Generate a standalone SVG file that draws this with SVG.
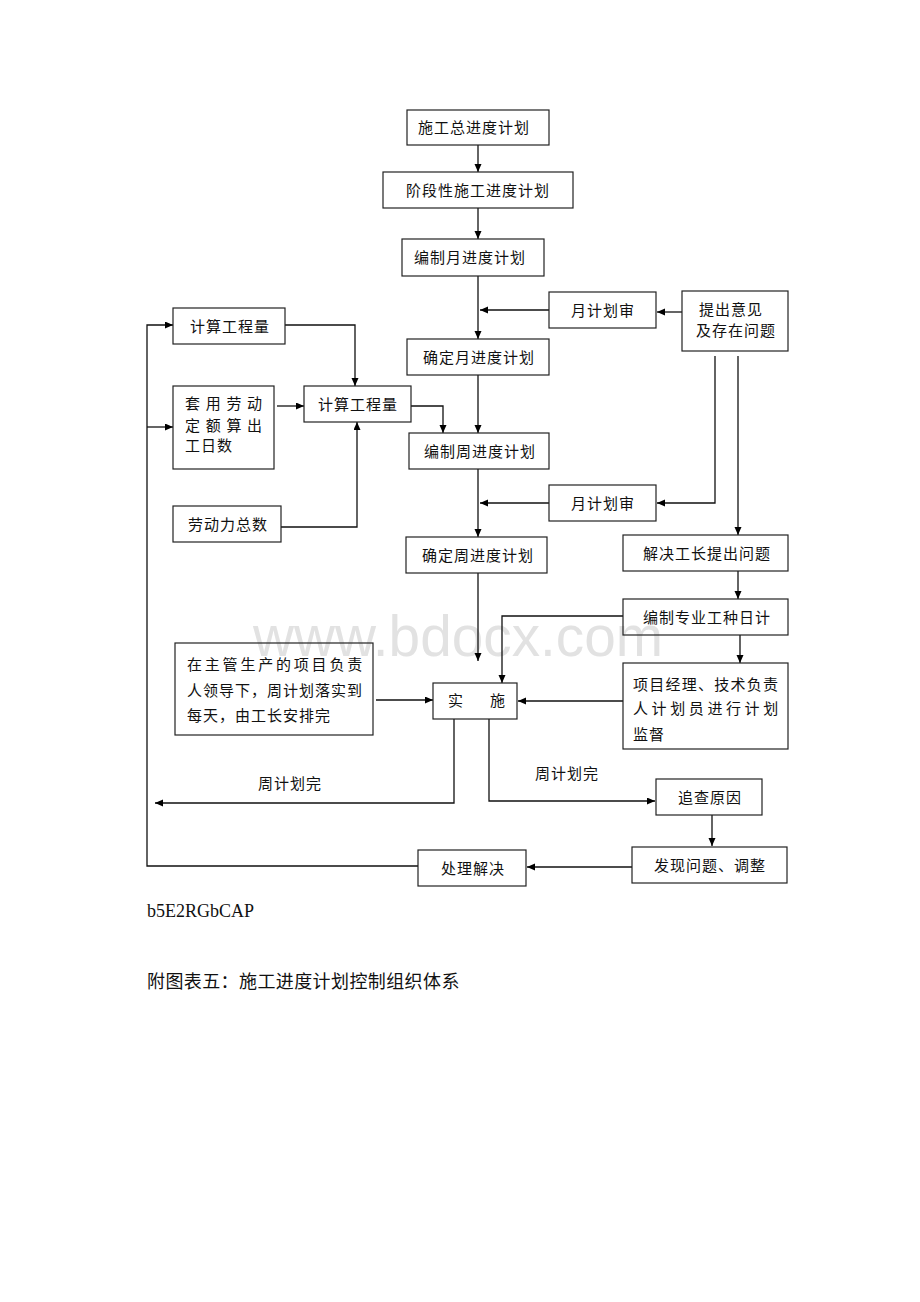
<svg xmlns="http://www.w3.org/2000/svg" width="920" height="1302" viewBox="0 0 920 1302">
<defs>
<marker id="ah" markerUnits="userSpaceOnUse" markerWidth="9" markerHeight="8" refX="8" refY="3.5" orient="auto">
<path d="M0,0 L8,3.5 L0,7 z" fill="#000"/>
</marker>
<style>
.box{fill:none;stroke:#222;stroke-width:1.2}
.t{font-family:"Liberation Serif","Noto Sans CJK SC",serif;font-size:15px;fill:#111;letter-spacing:1px}
.c{text-anchor:middle}
.ln{fill:none;stroke:#111;stroke-width:1.3}
.ar{marker-end:url(#ah)}
.lab{font-family:"Liberation Serif","Noto Sans CJK SC",serif;font-size:15px;fill:#111;letter-spacing:1px;text-anchor:middle}
.wm{font-family:"Liberation Sans",Arial,sans-serif;font-size:58px;fill:#e2e2e2}
.cap{font-family:"Liberation Serif","Noto Sans CJK SC",serif;font-size:18px;fill:#111}
</style>
</defs>
<rect width="920" height="1302" fill="#fff"/>
<text class="wm" x="253" y="656" textLength="410" lengthAdjust="spacingAndGlyphs">www.bdocx.com</text>

<g id="connectors">
<path class="ln ar" d="M478,145 V172"/>
<path class="ln ar" d="M478,208 V239"/>
<path class="ln ar" d="M478,276 V339"/>
<path class="ln ar" d="M549,310 H480"/>
<path class="ln ar" d="M682,312 H657"/>
<path class="ln ar" d="M478,375 V433"/>
<path class="ln ar" d="M411,406 H443 V433"/>
<path class="ln ar" d="M285,325 H355 V386"/>
<path class="ln ar" d="M281,527 H357 V422"/>
<path class="ln ar" d="M277,406 H304"/>
<path class="ln ar" d="M478,469 V537"/>
<path class="ln ar" d="M549,503 H480"/>
<path class="ln ar" d="M715,356 V503 H657"/>
<path class="ln ar" d="M738,356 V535"/>
<path class="ln ar" d="M478,573 V661"/>
<path class="ln ar" d="M738,571 V599"/>
<path class="ln ar" d="M623,616 H502 V683"/>
<path class="ln ar" d="M740,635 V663"/>
<path class="ln ar" d="M623,701 H518"/>
<path class="ln ar" d="M376,700 H433"/>
<path class="ln ar" d="M454,719 V803 H155"/>
<path class="ln ar" d="M489,719 V801 H655"/>
<path class="ln ar" d="M712,815 V846"/>
<path class="ln ar" d="M632,867 H527"/>
<path class="ln ar" d="M418,866 H147 V325 H173"/>
<path class="ln ar" d="M147,427 H173"/>
<text class="lab" x="290" y="789">周计划完</text>
<text class="lab" x="567" y="779">周计划完</text>
</g>

<g id="n1"><rect class="box" x="407" y="110" width="142" height="35"/><text class="t c" x="474" y="133">施工总进度计划</text></g>
<g id="n2"><rect class="box" x="383" y="172" width="190" height="36"/><text class="t c" x="478" y="195.5">阶段性施工进度计划</text></g>
<g id="n3"><rect class="box" x="402" y="239" width="142" height="37"/><text class="t c" x="470" y="263">编制月进度计划</text></g>
<g id="n4"><rect class="box" x="549" y="292" width="107" height="36"/><text class="t c" x="603" y="315.5">月计划审</text></g>
<g id="n5"><rect class="box" x="682" y="291" width="106" height="60"/><text class="t c" x="731" y="314.5">提出意见</text><text class="t c" x="736" y="335.5">及存在问题</text></g>
<g id="n6"><rect class="box" x="407" y="339" width="142" height="36"/><text class="t c" x="479" y="362.5">确定月进度计划</text></g>
<g id="n7"><rect class="box" x="173" y="308" width="112" height="36"/><text class="t c" x="230" y="331.5">计算工程量</text></g>
<g id="n8"><rect class="box" x="173" y="386" width="101" height="83"/><text class="t" x="185" y="409" style="letter-spacing:5.7px">套用劳动</text><text class="t" x="185" y="431" style="letter-spacing:5.7px">定额算出</text><text class="t" x="185" y="451">工日数</text></g>
<g id="n9"><rect class="box" x="304" y="386" width="107" height="36"/><text class="t c" x="358" y="409.5">计算工程量</text></g>
<g id="n10"><rect class="box" x="409" y="433" width="140" height="36"/><text class="t c" x="480" y="456.5">编制周进度计划</text></g>
<g id="n11"><rect class="box" x="549" y="485" width="107" height="36"/><text class="t c" x="603" y="508.5">月计划审</text></g>
<g id="n12"><rect class="box" x="173" y="506" width="108" height="36"/><text class="t c" x="228" y="529.5">劳动力总数</text></g>
<g id="n13"><rect class="box" x="406" y="537" width="141" height="36"/><text class="t c" x="478" y="560.5">确定周进度计划</text></g>
<g id="n14"><rect class="box" x="623" y="535" width="165" height="36"/><text class="t c" x="707" y="558.5">解决工长提出问题</text></g>
<g id="n15"><rect class="box" x="623" y="599" width="165" height="36"/><text class="t c" x="707" y="622.5">编制专业工种日计</text></g>
<g id="n16"><rect class="box" x="175" y="643" width="198" height="92"/><text class="t" x="187" y="669.5" style="letter-spacing:2.8px">在主管生产的项目负责</text><text class="t" x="187" y="695.5">人领导下，周计划落实到</text><text class="t" x="187" y="720.5">每天，由工长安排完</text></g>
<g id="n17"><rect class="box" x="433" y="683" width="84" height="36"/><text class="t" x="448" y="706">实</text><text class="t" x="490" y="706">施</text></g>
<g id="n18"><rect class="box" x="623" y="663" width="165" height="86"/><text class="t" x="633" y="689.5" style="letter-spacing:1.25px">项目经理、技术负责</text><text class="t" x="633" y="713.5" style="letter-spacing:3.6px">人计划员进行计划</text><text class="t" x="633" y="739.5">监督</text></g>
<g id="n19"><rect class="box" x="656" y="779" width="106" height="36"/><text class="t c" x="710" y="802.5">追查原因</text></g>
<g id="n20"><rect class="box" x="632" y="847" width="155" height="36"/><text class="t c" x="710" y="870.5">发现问题、调整</text></g>
<g id="n21"><rect class="box" x="418" y="850" width="108" height="36"/><text class="t c" x="473" y="873.5">处理解决</text></g>

<text class="cap" x="147" y="917">b5E2RGbCAP</text>
<text class="cap" x="147" y="988" style="letter-spacing:0.4px">附图表五：施工进度计划控制组织体系</text>
</svg>
